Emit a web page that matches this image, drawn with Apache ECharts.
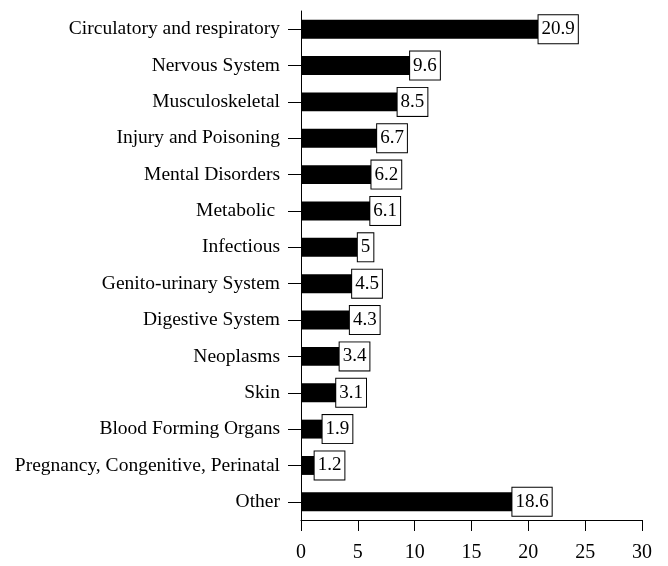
<!DOCTYPE html>
<html>
<head>
<meta charset="utf-8">
<script src="https://cdn.jsdelivr.net/npm/echarts@6/dist/echarts.min.js"></script>
<style>
  html, body { margin: 0; padding: 0; background: #fff; }
  #chart { width: 668px; height: 566px; }
</style>
</head>
<body>
<div id="chart"></div>
<script>
// categories top to bottom
const categories = [
  'Circulatory and respiratory',
  'Nervous System',
  'Musculoskeletal',
  'Injury and Poisoning',
  'Mental Disorders',
  'Metabolic ',
  'Infectious',
  'Genito-urinary System',
  'Digestive System',
  'Neoplasms',
  'Skin',
  'Blood Forming Organs',
  'Pregnancy, Congenitive, Perinatal',
  'Other'
]
const values = [20.9, 9.6, 8.5, 6.7, 6.2, 6.1, 5, 4.5, 4.3, 3.4, 3.1, 1.9, 1.2, 18.6]
const xTicks = [0, 5, 10, 15, 20, 25, 30]

const font = '"Liberation Serif", "Times New Roman", serif'
const chart = echarts.init(document.getElementById('chart'))
const option = {
  animation: false,
  grid: { left: 301, right: 26, top: 11, bottom: 46, containLabel: false },
  xAxis: {
    type: 'value',
    min: xTicks[0],
    max: xTicks[xTicks.length - 1],
    interval: 5,
    axisLine: { show: true, lineStyle: { color: '#000', width: 1 } },
    axisTick: { show: true, length: 11, lineStyle: { color: '#000' } },
    axisLabel: { color: '#000', fontFamily: font, fontSize: 20, margin: 23 },
    splitLine: { show: false }
  },
  yAxis: {
    type: 'category',
    inverse: true,
    data: categories,
    axisLine: { show: true, lineStyle: { color: '#000', width: 1 } },
    axisTick: { show: true, alignWithLabel: true, length: 13, lineStyle: { color: '#000' } },
    axisLabel: { color: '#000', fontFamily: font, fontSize: 19.5, margin: 21 }
  },
  series: [{
    type: 'bar',
    data: values,
    barWidth: '52%',
    itemStyle: { color: '#000' },
    label: {
      show: true,
      position: 'right',
      distance: 0,
      color: '#000',
      fontFamily: font,
      fontSize: 19,
      lineHeight: 19,
      backgroundColor: '#fff',
      borderColor: '#000',
      borderWidth: 1,
      padding: [5, 3, 4, 3]
    }
  }]
}
chart.setOption(option)
</script>
</body>
</html>
